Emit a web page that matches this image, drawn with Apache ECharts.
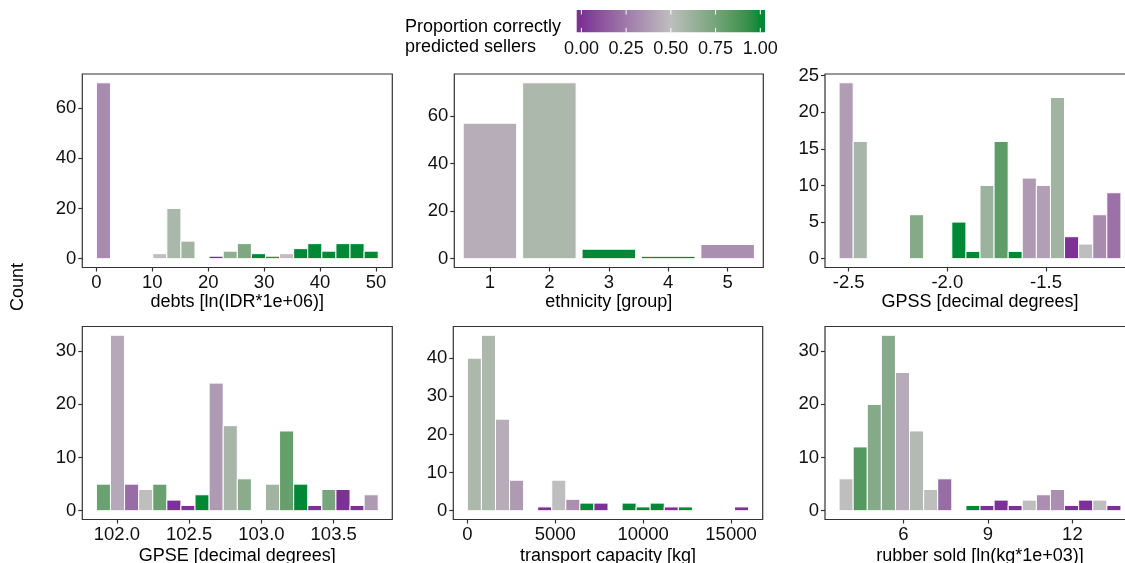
<!DOCTYPE html>
<html>
<head>
<meta charset="utf-8">
<script src="https://cdn.jsdelivr.net/npm/echarts@6/dist/echarts.min.js"></script>
<style>
html, body { margin: 0; padding: 0; background: #fff; }
#main { width: 1125px; height: 563px; }
</style>
</head>
<body>
<div id="main"></div>
<script>
// histogram bins: first edge, bin width, counts, proportion correctly predicted
var debtsStart = 0, debtsWidth = 2.52;
var debtsCounts = [70, 0, 0, 0, 2, 20, 7, 0, 1, 3, 6, 2, 1, 2, 4, 6, 3, 6, 6, 3];
var debtsProp = [0.32, null, null, null, 0.5, 0.57, 0.6, null, 0, 0.66, 0.72, 1, 0.95, 0.5, 1, 1, 1, 1, 1, 1];

var ethnicityGroups = [1, 2, 3, 4, 5];
var ethnicityCounts = [57, 74, 4, 1, 6];
var ethnicityProp = [0.44, 0.56, 1, 1, 0.33];

var gpssStart = -2.5486, gpssWidth = 0.0714;
var gpssCounts = [24, 16, 0, 0, 0, 6, 0, 0, 5, 1, 10, 16, 1, 11, 10, 22, 3, 2, 6, 9];
var gpssProp = [0.38, 0.58, null, null, null, 0.7, null, null, 1, 1, 0.62, 0.82, 1, 0.37, 0.39, 0.6, 0, 0.5, 0.32, 0.22];

var gpseStart = 101.858, gpseWidth = 0.0975;
var gpseCounts = [5, 33, 5, 4, 5, 2, 1, 3, 24, 16, 6, 0, 5, 15, 5, 1, 4, 4, 1, 3];
var gpseProp = [0.78, 0.42, 0.2, 0.5, 0.78, 0, 0, 1, 0.37, 0.58, 0.68, null, 0.6, 0.8, 1, 0, 0.74, 0, 0, 0.37];

var transportStart = 0, transportWidth = 800;
var transportCounts = [40, 46, 24, 8, 0, 1, 8, 3, 2, 2, 0, 2, 1, 2, 1, 1, 0, 0, 0, 1];
var transportProp = [0.56, 0.56, 0.44, 0.37, null, 0, 0.5, 0.33, 1, 0, null, 1, 1, 1, 0, 1, null, null, null, 0];

var rubberStart = 3.722, rubberWidth = 0.5;
var rubberCounts = [6, 12, 20, 33, 26, 15, 4, 6, 0, 1, 1, 2, 1, 2, 3, 4, 1, 2, 2, 1];
var rubberProp = [0.5, 0.85, 0.7, 0.69, 0.43, 0.54, 0.5, 0.2, null, 1, 0, 0, 0, 0.5, 0.33, 0.33, 0, 0, 0.5, 0];

// tick labels
var debtsTicks = [0, 10, 20, 30, 40, 50];
var gpssTicks = [-2.5, -2.0, -1.5];
var gpseTicks = [102.0, 102.5, 103.0, 103.5];
var transportTicks = [0, 5000, 10000, 15000];
var rubberTicks = [6, 9, 12];
var legendTicks = [0, 0.25, 0.5, 0.75, 1];

// diverging scale: purple -> grey -> green, interpolated in Lab like ggplot
var lowCol = '#7b3294', midCol = '#bebebe', highCol = '#008837';

function hexRgb(h) {
  return [parseInt(h.slice(1, 3), 16), parseInt(h.slice(3, 5), 16), parseInt(h.slice(5, 7), 16)];
}
function toLin(c) {
  c = c / 255;
  return c <= 0.04045 ? c / 12.92 : Math.pow((c + 0.055) / 1.055, 2.4);
}
function fromLin(c) {
  c = c <= 0.0031308 ? 12.92 * c : 1.055 * Math.pow(c, 1 / 2.4) - 0.055;
  return Math.round(Math.max(0, Math.min(1, c)) * 255);
}
function toLab(h) {
  var rgb = hexRgb(h).map(toLin);
  var r = rgb[0], g = rgb[1], b = rgb[2];
  var x = (r * 0.4124 + g * 0.3576 + b * 0.1805) / 0.95047;
  var y = r * 0.2126 + g * 0.7152 + b * 0.0722;
  var z = (r * 0.0193 + g * 0.1192 + b * 0.9505) / 1.08883;
  var f = function (t) { return t > 0.008856 ? Math.cbrt(t) : 7.787 * t + 16 / 116; };
  return [116 * f(y) - 16, 500 * (f(x) - f(y)), 200 * (f(y) - f(z))];
}
function labCss(lab) {
  var fy = (lab[0] + 16) / 116, fx = fy + lab[1] / 500, fz = fy - lab[2] / 200;
  var inv = function (t) { return t * t * t > 0.008856 ? t * t * t : (t - 16 / 116) / 7.787; };
  var x = inv(fx) * 0.95047, y = inv(fy), z = inv(fz) * 1.08883;
  var r = x * 3.2406 - y * 1.5372 - z * 0.4986;
  var g = -x * 0.9689 + y * 1.8758 + z * 0.0415;
  var b = x * 0.0557 - y * 0.2040 + z * 1.0570;
  return 'rgb(' + [r, g, b].map(fromLin).join(',') + ')';
}
var lowLab = toLab(lowCol), midLab = toLab(midCol), highLab = toLab(highCol);
function fillColor(p) {
  var a, b, t;
  if (p <= 0.5) { a = lowLab; b = midLab; t = p / 0.5; }
  else { a = midLab; b = highLab; t = (p - 0.5) / 0.5; }
  return labCss([0, 1, 2].map(function (k) { return a[k] + (b[k] - a[k]) * t; }));
}

function histData(start, width, counts, props) {
  var out = [];
  counts.forEach(function (c, i) {
    if (c > 0) out.push([start + i * width, start + (i + 1) * width, c, props[i]]);
  });
  return out;
}
function barData(groups, counts, props) {
  return groups.map(function (g, i) { return [g - 0.45, g + 0.45, counts[i], props[i]]; });
}

var FONT = 'Liberation Sans, Arial, sans-serif';
var TICK_SIZE = 18.5;

var panels = [
  { title: 'debts [ln(IDR*1e+06)]', data: histData(debtsStart, debtsWidth, debtsCounts, debtsProp),
    xMin: debtsStart - debtsWidth, xMax: debtsStart + 21 * debtsWidth, xTicks: debtsTicks, xFmt: 0,
    yMin: -3.5, yMax: 73.5, yTicks: [0, 20, 40, 60] },
  { title: 'ethnicity [group]', data: barData(ethnicityGroups, ethnicityCounts, ethnicityProp),
    xMin: 0.4, xMax: 5.6, xTicks: ethnicityGroups, xFmt: 0,
    yMin: -3.7, yMax: 77.7, yTicks: [0, 20, 40, 60] },
  { title: 'GPSS [decimal degrees]', data: histData(gpssStart, gpssWidth, gpssCounts, gpssProp),
    xMin: gpssStart - gpssWidth, xMax: gpssStart + 21 * gpssWidth, xTicks: gpssTicks, xFmt: 1,
    yMin: -1.2, yMax: 25.2, yTicks: [0, 5, 10, 15, 20, 25] },
  { title: 'GPSE [decimal degrees]', data: histData(gpseStart, gpseWidth, gpseCounts, gpseProp),
    xMin: gpseStart - gpseWidth, xMax: gpseStart + 21 * gpseWidth, xTicks: gpseTicks, xFmt: 1,
    yMin: -1.65, yMax: 34.65, yTicks: [0, 10, 20, 30] },
  { title: 'transport capacity [kg]', data: histData(transportStart, transportWidth, transportCounts, transportProp),
    xMin: transportStart - transportWidth, xMax: transportStart + 21 * transportWidth, xTicks: transportTicks, xFmt: 0,
    yMin: -2.3, yMax: 48.3, yTicks: [0, 10, 20, 30, 40] },
  { title: 'rubber sold [ln(kg*1e+03)]', data: histData(rubberStart, rubberWidth, rubberCounts, rubberProp),
    xMin: rubberStart - rubberWidth, xMax: rubberStart + 21 * rubberWidth, xTicks: rubberTicks, xFmt: 0,
    yMin: -1.65, yMax: 34.65, yTicks: [0, 10, 20, 30] }
];

// panel boxes [left, top, width, height] and gap to the axis title
var boxes = [
  [82.3, 74, 310, 193.5], [454.3, 74, 309, 193.5], [825, 74, 310, 193.5],
  [82.3, 326.5, 310, 193], [453.3, 326.5, 309.4, 193], [825, 326.5, 310, 193]
];
var titleGaps = [25, 25, 25, 28, 28, 28];

var grids = [], xAxes = [], yAxes = [], series = [];

panels.forEach(function (p, i) {
  var b = boxes[i];
  grids.push({ left: b[0], top: b[1], width: b[2], height: b[3], show: true, outerBoundsMode: 'none',
    borderColor: '#333', borderWidth: 1.2, backgroundColor: '#fff' });
  xAxes.push({
    gridIndex: i, type: 'value', min: p.xMin, max: p.xMax,
    name: p.title, nameLocation: 'middle', nameGap: titleGaps[i],
    nameTextStyle: { fontSize: 18, color: '#000', fontFamily: FONT },
    axisLine: { show: false, onZero: false },
    axisTick: { show: true, length: 4, customValues: p.xTicks, lineStyle: { color: '#333', width: 1.2 } },
    axisLabel: { customValues: p.xTicks, margin: 5.5, fontSize: TICK_SIZE, color: '#111', fontFamily: FONT,
      formatter: (function (d) { return function (v) { return v.toFixed(d); }; })(p.xFmt) },
    splitLine: { show: false }
  });
  yAxes.push({
    gridIndex: i, type: 'value', min: p.yMin, max: p.yMax,
    axisLine: { show: false, onZero: false },
    axisTick: { show: true, length: 4, customValues: p.yTicks, lineStyle: { color: '#333', width: 1.2 } },
    axisLabel: { customValues: p.yTicks, margin: 6, fontSize: TICK_SIZE, color: '#111', fontFamily: FONT,
      formatter: function (v) { return String(v); } },
    splitLine: { show: false }
  });
  series.push({
    type: 'custom', xAxisIndex: i, yAxisIndex: i, data: p.data,
    encode: { x: [0, 1], y: 2 },
    renderItem: function (params, api) {
      var a = api.coord([api.value(0), api.value(2)]);
      var c = api.coord([api.value(1), 0]);
      return {
        type: 'rect',
        shape: { x: a[0], y: a[1], width: c[0] - a[0], height: c[1] - a[1] },
        style: { fill: fillColor(api.value(3)), stroke: '#fff', lineWidth: 1 }
      };
    }
  });
});

// colour bar legend as its own little grid
var legMin = -0.0263, legMax = 1.0263;
grids.push({ left: 576.7, top: 10, width: 188.3, height: 22.3, outerBoundsMode: 'none' });
xAxes.push({
  gridIndex: 6, type: 'value', min: legMin, max: legMax,
  axisLine: { show: false }, axisTick: { show: false }, splitLine: { show: false },
  axisLabel: { customValues: legendTicks, margin: 8, fontSize: 18, color: '#111', fontFamily: FONT,
    formatter: function (v) { return v.toFixed(2); } }
});
yAxes.push({ gridIndex: 6, type: 'value', min: 0, max: 1, show: false });
series.push({
  type: 'custom', xAxisIndex: 6, yAxisIndex: 6, data: [[0]],
  renderItem: function (params, api) {
    var a = api.coord([legMin, 1]), c = api.coord([legMax, 0]);
    var stops = [];
    for (var k = 0; k <= 40; k++) {
      var pos = k / 40;
      var v = Math.max(0, Math.min(1, legMin + pos * (legMax - legMin)));
      stops.push({ offset: pos, color: fillColor(v) });
    }
    var kids = [{
      type: 'rect', shape: { x: a[0], y: a[1], width: c[0] - a[0], height: c[1] - a[1] },
      style: { fill: new echarts.graphic.LinearGradient(0, 0, 1, 0, stops) }
    }];
    var tl = (c[1] - a[1]) * 0.2;
    legendTicks.forEach(function (t) {
      var x = api.coord([t, 0])[0];
      kids.push({ type: 'line', shape: { x1: x, y1: a[1], x2: x, y2: a[1] + tl }, style: { stroke: '#fff', lineWidth: 1 } });
      kids.push({ type: 'line', shape: { x1: x, y1: c[1], x2: x, y2: c[1] - tl }, style: { stroke: '#fff', lineWidth: 1 } });
    });
    return { type: 'group', children: kids };
  }
});

var myChart = echarts.init(document.getElementById('main'));
myChart.setOption({
  animation: false,
  backgroundColor: '#fff',
  grid: grids,
  xAxis: xAxes,
  yAxis: yAxes,
  series: series,
  graphic: [
    { type: 'text', left: 405, top: 17,
      style: { text: 'Proportion correctly\npredicted sellers', fontSize: 18, lineHeight: 20,
        fill: '#000', fontFamily: FONT } },
    { type: 'text', x: 18.5, y: 287, rotation: Math.PI / 2,
      style: { text: 'Count', fontSize: 18, fill: '#000', fontFamily: FONT, align: 'center', verticalAlign: 'middle' } }
  ]
});
window.onresize = myChart.resize;
</script>
</body>
</html>
